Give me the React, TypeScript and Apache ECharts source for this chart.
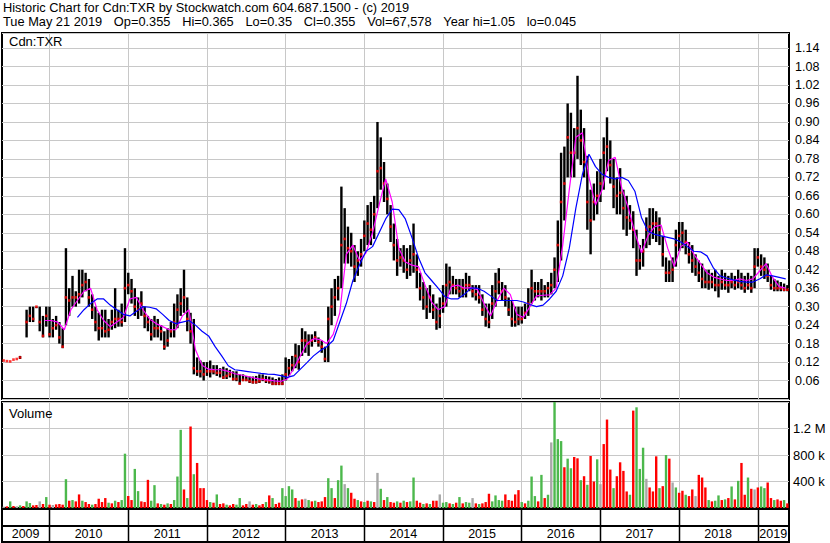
import React, { useEffect, useRef } from "react";
import * as echarts from "echarts";

// ---- time frame: half-month periods from late May 2009 to May 2019 ----
const START = 2009.4;
const END = 2019.4;
const PERIODS_PER_YEAR = 24;
const YEARS = [2009, 2010, 2011, 2012, 2013, 2014, 2015, 2016, 2017, 2018, 2019];

// ---- price (per half-month period) ----
const HIGH = [
  null, null, null, null, null, 0.14, null, 0.29, 0.30, 0.30,
  0.30, 0.30, 0.27, 0.30, 0.30, 0.26, 0.27, 0.25, 0.23, 0.49,
  0.36, 0.40, 0.35, 0.42, 0.42, 0.41, 0.39, 0.34, 0.30, 0.28,
  0.29, 0.29, 0.26, 0.29, 0.36, 0.29, 0.31, 0.49, 0.41, 0.39,
  0.36, 0.33, 0.35, 0.30, 0.27, 0.26, 0.27, 0.26, 0.24, 0.22,
  0.23, 0.25, 0.31, 0.34, 0.36, 0.42, 0.33, 0.28, 0.26, 0.135,
  0.125, 0.12, 0.12, 0.125, 0.11, 0.11, 0.10, 0.105, 0.10, 0.095,
  0.09, 0.09, 0.08, 0.08, 0.075, 0.073, 0.073, 0.075, 0.08, 0.08,
  0.075, 0.073, 0.07, 0.065, 0.07, 0.08, 0.135, 0.13, 0.14, 0.18,
  0.175, 0.23, 0.22, 0.21, 0.21, 0.22, 0.20, 0.19, 0.17, 0.30,
  0.36, 0.39, 0.40, 0.69, 0.62, 0.56, 0.54, 0.50, 0.48, 0.52,
  0.58, 0.63, 0.64, 0.66, 0.90, 0.85, 0.77, 0.70, 0.63, 0.57,
  0.52, 0.49, 0.50, 0.49, 0.50, 0.57, 0.47, 0.41, 0.38, 0.36,
  0.37, 0.34, 0.31, 0.33, 0.37, 0.44, 0.43, 0.40, 0.39, 0.39,
  0.39, 0.41, 0.40, 0.37, 0.37, 0.37, 0.34, 0.31, 0.31, 0.37,
  0.41, 0.425, 0.38, 0.37, 0.33, 0.32, 0.30, 0.30, 0.30, 0.31,
  0.36, 0.42, 0.38, 0.38, 0.39, 0.37, 0.38, 0.41, 0.46, 0.58,
  0.80, 0.82, 0.96, 0.93, 0.88, 1.05, 0.94, 0.88, 0.79, 0.68,
  0.70, 0.74, 0.78, 0.85, 0.915, 0.84, 0.78, 0.72, 0.75, 0.68,
  0.66, 0.63, 0.61, 0.55, 0.50, 0.52, 0.59, 0.62, 0.62, 0.61,
  0.59, 0.53, 0.46, 0.45, 0.46, 0.55, 0.575, 0.575, 0.55, 0.51,
  0.50, 0.47, 0.45, 0.44, 0.42, 0.42, 0.41, 0.42, 0.40, 0.42,
  0.41, 0.40, 0.41, 0.40, 0.42, 0.41, 0.40, 0.41, 0.40, 0.49,
  0.49, 0.47, 0.46, 0.44, 0.40, 0.39, 0.385, 0.38, 0.375, 0.37,
];
const LOW = [
  null, null, null, null, null, 0.13, null, 0.20, 0.25, 0.25,
  0.295, 0.22, 0.20, 0.235, 0.20, 0.20, 0.225, 0.18, 0.165, 0.24,
  0.27, 0.30, 0.30, 0.31, 0.33, 0.35, 0.30, 0.26, 0.22, 0.19,
  0.20, 0.20, 0.20, 0.225, 0.23, 0.235, 0.235, 0.25, 0.34, 0.31,
  0.27, 0.26, 0.27, 0.23, 0.22, 0.19, 0.20, 0.20, 0.19, 0.16,
  0.17, 0.20, 0.20, 0.23, 0.27, 0.28, 0.22, 0.18, 0.08, 0.075,
  0.07, 0.06, 0.075, 0.07, 0.08, 0.075, 0.07, 0.065, 0.065, 0.07,
  0.06, 0.058, 0.047, 0.058, 0.058, 0.052, 0.05, 0.05, 0.052, 0.058,
  0.052, 0.05, 0.045, 0.045, 0.045, 0.045, 0.06, 0.075, 0.09, 0.10,
  0.095, 0.14, 0.15, 0.14, 0.17, 0.185, 0.17, 0.15, 0.12, 0.12,
  0.24, 0.27, 0.32, 0.36, 0.44, 0.44, 0.43, 0.38, 0.40, 0.43,
  0.48, 0.50, 0.50, 0.52, 0.62, 0.68, 0.64, 0.60, 0.51, 0.45,
  0.40, 0.43, 0.41, 0.39, 0.40, 0.41, 0.36, 0.32, 0.29, 0.26,
  0.28, 0.26, 0.225, 0.23, 0.28, 0.30, 0.34, 0.34, 0.34, 0.33,
  0.33, 0.33, 0.35, 0.33, 0.32, 0.31, 0.27, 0.235, 0.23, 0.26,
  0.30, 0.34, 0.32, 0.30, 0.27, 0.235, 0.235, 0.24, 0.245, 0.26,
  0.27, 0.31, 0.32, 0.33, 0.32, 0.33, 0.33, 0.34, 0.36, 0.38,
  0.45, 0.58, 0.72, 0.72, 0.72, 0.78, 0.76, 0.72, 0.55, 0.47,
  0.58, 0.60, 0.64, 0.68, 0.74, 0.70, 0.62, 0.60, 0.60, 0.55,
  0.53, 0.55, 0.49, 0.40, 0.42, 0.43, 0.49, 0.50, 0.52, 0.51,
  0.50, 0.43, 0.38, 0.38, 0.38, 0.43, 0.48, 0.49, 0.47, 0.44,
  0.41, 0.40, 0.38, 0.36, 0.36, 0.355, 0.36, 0.35, 0.33, 0.355,
  0.355, 0.345, 0.36, 0.355, 0.36, 0.355, 0.345, 0.355, 0.345, 0.36,
  0.43, 0.40, 0.39, 0.38, 0.355, 0.35, 0.35, 0.35, 0.35, 0.35,
];
const CLOSE = [
  0.125, 0.123, 0.122, 0.128, 0.13, 0.135, null, 0.25, 0.27, 0.26,
  0.30, 0.25, 0.205, 0.27, 0.21, 0.23, 0.24, 0.20, 0.17, 0.33,
  0.32, 0.33, 0.33, 0.34, 0.37, 0.38, 0.33, 0.29, 0.25, 0.23,
  0.23, 0.22, 0.225, 0.25, 0.26, 0.26, 0.25, 0.36, 0.37, 0.35,
  0.30, 0.29, 0.31, 0.27, 0.25, 0.21, 0.23, 0.23, 0.22, 0.17,
  0.19, 0.22, 0.25, 0.29, 0.31, 0.33, 0.26, 0.22, 0.10, 0.09,
  0.09, 0.08, 0.09, 0.09, 0.09, 0.085, 0.085, 0.07, 0.075, 0.08,
  0.065, 0.065, 0.05, 0.062, 0.062, 0.058, 0.055, 0.055, 0.058, 0.065,
  0.06, 0.058, 0.05, 0.05, 0.05, 0.05, 0.08, 0.10, 0.11, 0.14,
  0.12, 0.19, 0.19, 0.18, 0.19, 0.20, 0.185, 0.17, 0.13, 0.26,
  0.30, 0.33, 0.36, 0.50, 0.52, 0.49, 0.48, 0.43, 0.45, 0.47,
  0.53, 0.57, 0.55, 0.60, 0.74, 0.75, 0.70, 0.65, 0.56, 0.50,
  0.45, 0.46, 0.45, 0.42, 0.45, 0.47, 0.42, 0.36, 0.33, 0.30,
  0.33, 0.29, 0.25, 0.27, 0.31, 0.37, 0.38, 0.37, 0.36, 0.35,
  0.36, 0.37, 0.37, 0.35, 0.34, 0.33, 0.29, 0.26, 0.25, 0.31,
  0.35, 0.38, 0.35, 0.33, 0.29, 0.26, 0.25, 0.26, 0.26, 0.28,
  0.31, 0.36, 0.35, 0.35, 0.35, 0.35, 0.36, 0.37, 0.42, 0.50,
  0.64, 0.70, 0.85, 0.80, 0.80, 0.88, 0.84, 0.77, 0.64, 0.58,
  0.64, 0.66, 0.70, 0.80, 0.82, 0.76, 0.69, 0.66, 0.67, 0.62,
  0.59, 0.58, 0.55, 0.45, 0.45, 0.48, 0.55, 0.56, 0.57, 0.57,
  0.55, 0.47, 0.41, 0.41, 0.42, 0.50, 0.53, 0.54, 0.51, 0.47,
  0.45, 0.43, 0.41, 0.39, 0.38, 0.38, 0.38, 0.37, 0.37, 0.38,
  0.37, 0.37, 0.38, 0.37, 0.38, 0.37, 0.36, 0.37, 0.36, 0.43,
  0.46, 0.43, 0.42, 0.40, 0.37, 0.36, 0.36, 0.36, 0.355, 0.355,
];

// ---- moving averages (monthly readings) ----
const MA_SHORT = [
  null, null, null, null, null, null, 0.255, 0.255, 0.25, 0.225,
  0.29, 0.32, 0.35, 0.36, 0.29, 0.255, 0.235, 0.25, 0.265, 0.325,
  0.33, 0.29, 0.26, 0.245, 0.235, 0.225, 0.225, 0.27, 0.29, 0.16,
  0.11, 0.097, 0.095, 0.095, 0.09, 0.082, 0.078, 0.073, 0.068, 0.064,
  0.062, 0.059, 0.057, 0.065, 0.10, 0.14, 0.18, 0.196, 0.193, 0.18,
  0.21, 0.28, 0.47, 0.50, 0.45, 0.475, 0.54, 0.63, 0.715, 0.64,
  0.49, 0.445, 0.435, 0.43, 0.37, 0.315, 0.29, 0.30, 0.365, 0.37,
  0.36, 0.362, 0.355, 0.31, 0.27, 0.32, 0.36, 0.34, 0.275, 0.265,
  0.30, 0.335, 0.337, 0.338, 0.36, 0.50, 0.68, 0.85, 0.865, 0.72,
  0.63, 0.68, 0.775, 0.785, 0.685, 0.62, 0.54, 0.475, 0.53, 0.56,
  0.565, 0.49, 0.43, 0.495, 0.51, 0.47, 0.44, 0.41, 0.396, 0.39,
  0.385, 0.385, 0.39, 0.385, 0.39, 0.415, 0.44, 0.395, 0.365, 0.36,
];
const MA_LONG = [
  null, null, null, null, null, null, null, null, null, null,
  null, 0.265, 0.29, 0.31, 0.325, 0.325, 0.305, 0.29, 0.275, 0.27,
  0.285, 0.30, 0.298, 0.293, 0.275, 0.255, 0.245, 0.25, 0.255, 0.24,
  0.22, 0.205, 0.17, 0.14, 0.108, 0.095, 0.092, 0.089, 0.086, 0.083,
  0.081, 0.08, 0.076, 0.07, 0.076, 0.097, 0.118, 0.14, 0.157, 0.17,
  0.19, 0.25, 0.31, 0.385, 0.435, 0.48, 0.495, 0.54, 0.585, 0.617,
  0.615, 0.585, 0.525, 0.46, 0.41, 0.385, 0.36, 0.333, 0.325, 0.325,
  0.34, 0.36, 0.36, 0.35, 0.335, 0.32, 0.32, 0.32, 0.32, 0.315,
  0.307, 0.30, 0.305, 0.325, 0.35, 0.40, 0.49, 0.62, 0.73, 0.795,
  0.755, 0.73, 0.72, 0.715, 0.72, 0.71, 0.675, 0.59, 0.545, 0.535,
  0.53, 0.525, 0.52, 0.51, 0.495, 0.48, 0.478, 0.465, 0.425, 0.40,
  0.393, 0.387, 0.382, 0.38, 0.38, 0.39, 0.403, 0.40, 0.395, 0.39,
];

// ---- volume (thousands of shares, per half-month period) ----
const VOLUME_K = [
  20, 25, 100, 30, 25, 40, 30, 100, 75, 40,
  45, 100, 60, 165, 50, 45, 55, 60, 50, 435,
  110, 120, 100, 205, 110, 90, 60, 50, 60, 140,
  90, 150, 80, 70, 110, 90, 120, 820, 180, 120,
  590, 255, 100, 90, 425, 110, 345, 70, 60, 50,
  70, 60, 120, 475, 1180, 280, 150, 1230, 510, 680,
  300, 300, 120, 90, 80, 205, 60, 70, 50, 40,
  60, 50, 150, 40, 60, 100, 50, 60, 40, 60,
  90, 190, 150, 60, 80, 300, 180, 330, 280, 150,
  110, 130, 140, 120, 100, 110, 90, 100, 165, 450,
  300, 150, 420, 640, 360, 300, 230, 140, 120, 100,
  90, 110, 100, 90, 530, 290, 120, 165, 90, 80,
  100, 80, 110, 90, 100, 460, 110, 80, 60, 70,
  60, 110, 110, 205, 80, 90, 70, 60, 80, 165,
  70, 90, 80, 150, 70, 60, 70, 90, 215, 100,
  190, 120, 110, 205, 120, 110, 205, 270, 90, 70,
  110, 475, 180, 100, 500, 150, 200, 990, 1640, 1040,
  1010, 615, 745, 600, 770, 750, 420, 480, 350, 785,
  400, 735, 360, 965, 1335, 580, 300, 480, 690, 560,
  250, 200, 1470, 1520, 590, 910, 440, 310, 250, 780,
  300, 330, 800, 745, 385, 310, 230, 260, 200, 180,
  280, 180, 500, 460, 310, 120, 100, 110, 190, 120,
  130, 150, 325, 130, 410, 680, 200, 460, 290, 280,
  310, 325, 300, 385, 150, 120, 130, 110, 120, 70,
];
// g = up day (green), r = down day (red), n = unchanged (grey)
const VOLUME_DIR = (
  "nrgrngrggr" + "rnrgrnrrrg" + "rgrrgrrgrr" + "rrgrgrggrr" +
  "ggrrrggrgr" + "grgggrgrgr" + "rrrgrgrrgr" + "rggrrnrgrr" +
  "grgrrggggr" + "grngrgrrrg" + "grggngrrgr" + "grgrngrgrr" +
  "grgrggrrgr" + "grrnggrgrg" + "rggnrgrrrg" + "gggrrrrrgr" +
  "gggrgrgngg" + "grggrrgrgr" + "rgnrrrgrrr" + "rgrgggnrrr" +
  "grgrngrrgr" + "rnrrrgrggr" + "grgrgrrgrn" + "rggrrgrrgr"
).split("");

const VOLUME_TICK_LABELS: Record<number, string> = {
  400000: "400 k",
  800000: "800 k",
  1200000: "1.2 M",
};

const HEADER_1 = "Historic Chart for Cdn:TXR by Stockwatch.com 604.687.1500 - (c) 2019";
const HEADER_2 = [
  "Tue May 21 2019", "Op=0.355", "Hi=0.365", "Lo=0.35", "Cl=0.355",
  "Vol=67,578", "Year hi=1.05", "lo=0.045",
].join(" \u00a0\u00a0\u200a");
const PRICE_TITLE = "Cdn:TXR";
const VOLUME_TITLE = "Volume";

const FONT = '"Liberation Sans", Arial, Helvetica, sans-serif';
const GRID_GREY = "#c8c8c8";
const VOL_COLORS: Record<string, string> = { g: "#4cb84c", r: "#ff0000", n: "#a8a8a8" };

const periodTime = (i: number) => START + (i + 0.5) / PERIODS_PER_YEAR;
const monthTime = (j: number) => START + (j + 0.5) / 12;

function yearLineSeries(gridIdx: number, color: string, width: number) {
  return {
    type: "custom",
    xAxisIndex: gridIdx,
    yAxisIndex: gridIdx,
    z: 1,
    silent: true,
    data: YEARS.filter((y) => y > START).map((y) => [y, 0]),
    encode: { x: 0, y: 1 },
    renderItem: (params: any, api: any) => {
      const cs = params.coordSys;
      const x = Math.round(api.coord([api.value(0), 0])[0]) + 0.5;
      return {
        type: "line",
        shape: { x1: x, y1: cs.y, x2: x, y2: cs.y + cs.height },
        style: { stroke: color, lineWidth: width },
      };
    },
  };
}

export default function App() {
  const ref = useRef<HTMLDivElement>(null);

  useEffect(() => {
    if (!ref.current) return;
    const chart = echarts.init(ref.current, null, { renderer: "svg" });

    const barData = HIGH.map((h, i) =>
      h == null || LOW[i] == null ? null : [periodTime(i), h, LOW[i] as number]
    ).filter(Boolean);
    const closeData = CLOSE.map((c, i) => (c == null ? null : [periodTime(i), c])).filter(Boolean);
    const maShortData = MA_SHORT.map((v, j) => (v == null ? null : [monthTime(j), v])).filter(Boolean);
    const maLongData = MA_LONG.map((v, j) => (v == null ? null : [monthTime(j), v])).filter(Boolean);
    const volData = VOLUME_K.map((v, i) => ({
      value: [periodTime(i), v * 1000],
      itemStyle: { color: VOL_COLORS[VOLUME_DIR[i]] || VOL_COLORS.n },
    }));

    const xAxisBase = { type: "value", min: START, max: END, show: false };

    const option: any = {
      animation: false,
      backgroundColor: "#ffffff",
      textStyle: { fontFamily: FONT },
      grid: [
        { left: 2, right: 41, top: 33, height: 366, show: true, borderColor: "#000", borderWidth: 2, backgroundColor: "transparent" },
        { left: 2, right: 41, top: 402, height: 106, show: true, borderColor: "#000", borderWidth: 2, backgroundColor: "transparent" },
        { left: 2, right: 41, top: 509, height: 33, show: true, borderColor: "#000", borderWidth: 2, backgroundColor: "transparent" },
      ],
      xAxis: [
        { ...xAxisBase, gridIndex: 0 },
        { ...xAxisBase, gridIndex: 1 },
        { ...xAxisBase, gridIndex: 2 },
      ],
      yAxis: [
        {
          gridIndex: 0,
          type: "value",
          position: "right",
          min: 0,
          max: 1.189,
          interval: 0.06,
          axisLine: { show: false },
          axisTick: { show: false },
          axisLabel: {
            margin: 6,
            align: "left",
            color: "#000",
            fontSize: 12.5,
            fontFamily: FONT,
            formatter: (v: number) => (v > 0.001 && v < 1.15 ? v.toFixed(2) : ""),
          },
          splitLine: { show: true, lineStyle: { color: GRID_GREY, width: 1 } },
        },
        {
          gridIndex: 1,
          type: "value",
          position: "right",
          min: 0,
          max: 1600000,
          interval: 400000,
          axisLine: { show: false },
          axisTick: { show: false },
          axisLabel: {
            margin: 4,
            align: "left",
            color: "#000",
            fontSize: 13,
            fontFamily: FONT,
            formatter: (v: number) => VOLUME_TICK_LABELS[Math.round(v)] || "",
          },
          splitLine: { show: true, lineStyle: { color: GRID_GREY, width: 1 } },
        },
        {
          gridIndex: 2,
          type: "value",
          min: 0,
          max: 2,
          interval: 1,
          axisLine: { show: false },
          axisTick: { show: false },
          axisLabel: { show: false },
          splitLine: { show: true, lineStyle: { color: "#000", width: 2 } },
        },
      ],
      graphic: [
        { type: "text", x: 3, y: 7.3, style: { text: HEADER_1, font: `12.8px ${FONT}`, fill: "#000", verticalAlign: "middle" } },
        { type: "text", x: 3, y: 21.8, style: { text: HEADER_2, font: `12.8px ${FONT}`, fill: "#000", verticalAlign: "middle" } },
        { type: "text", x: 9, y: 41, z: 10, style: { text: PRICE_TITLE, font: `13px ${FONT}`, fill: "#000", verticalAlign: "middle" } },
        { type: "text", x: 9, y: 413, z: 10, style: { text: VOLUME_TITLE, font: `13px ${FONT}`, fill: "#000", verticalAlign: "middle" } },
      ],
      series: [
        yearLineSeries(0, GRID_GREY, 1),
        {
          type: "custom",
          name: "range",
          xAxisIndex: 0,
          yAxisIndex: 0,
          z: 2,
          silent: true,
          data: barData,
          encode: { x: 0, y: [1, 2] },
          renderItem: (params: any, api: any) => {
            const top = api.coord([api.value(0), api.value(1)]);
            const bot = api.coord([api.value(0), api.value(2)]);
            return {
              type: "rect",
              shape: { x: top[0] - 1.2, y: top[1], width: 2.4, height: Math.max(1, bot[1] - top[1]) },
              style: { fill: "#000" },
            };
          },
        },
        {
          type: "scatter",
          name: "close",
          xAxisIndex: 0,
          yAxisIndex: 0,
          z: 3,
          silent: true,
          symbol: "rect",
          symbolSize: 2.6,
          itemStyle: { color: "#ff0000" },
          data: closeData,
        },
        {
          type: "line",
          name: "ma short",
          xAxisIndex: 0,
          yAxisIndex: 0,
          z: 4,
          silent: true,
          showSymbol: false,
          symbol: "none",
          lineStyle: { color: "#ff00ff", width: 1.2 },
          data: maShortData,
        },
        {
          type: "line",
          name: "ma long",
          xAxisIndex: 0,
          yAxisIndex: 0,
          z: 4,
          silent: true,
          showSymbol: false,
          symbol: "none",
          lineStyle: { color: "#0000ff", width: 1.2 },
          data: maLongData,
        },
        yearLineSeries(1, GRID_GREY, 1),
        {
          type: "bar",
          name: "volume",
          xAxisIndex: 1,
          yAxisIndex: 1,
          z: 2,
          silent: true,
          barWidth: 2.4,
          data: volData,
        },
        {
          type: "custom",
          name: "years",
          xAxisIndex: 2,
          yAxisIndex: 2,
          z: 5,
          silent: true,
          clip: false,
          data: YEARS.map((y) => [y, 0]),
          encode: { x: 0, y: 1 },
          renderItem: (params: any, api: any) => {
            const cs = params.coordSys;
            const year = api.value(0);
            const a = Math.max(year, START);
            const b = Math.min(year + 1, END);
            const xa = api.coord([a, 0])[0];
            const xb = api.coord([b, 0])[0];
            const children: any[] = [];
            if (year > START) {
              const xl = Math.round(xa) + 0.5;
              children.push({
                type: "line",
                shape: { x1: xl, y1: cs.y, x2: xl, y2: cs.y + cs.height },
                style: { stroke: "#000", lineWidth: 1.5 },
              });
            }
            children.push({
              type: "text",
              x: (xa + xb) / 2,
              y: cs.y + cs.height * 0.76,
              style: {
                text: String(year),
                fill: "#000",
                font: `12.5px ${FONT}`,
                align: "center",
                verticalAlign: "middle",
              },
            });
            return { type: "group", children };
          },
        },
      ],
    };

    chart.setOption(option);
    return () => chart.dispose();
  }, []);

  return (
    <div
      ref={ref}
      style={{ position: "absolute", left: 0, top: 0, width: 830, height: 543, background: "#fff" }}
    />
  );
}
